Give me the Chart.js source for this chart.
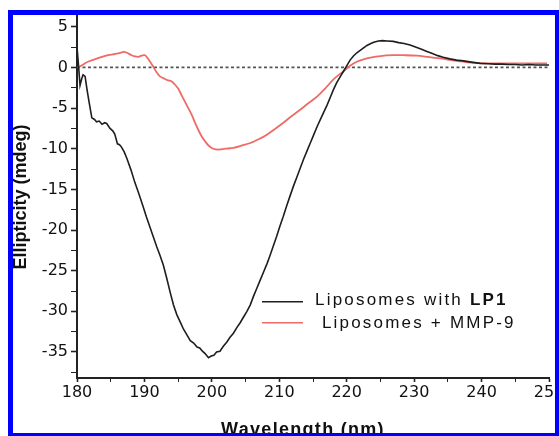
<!DOCTYPE html>
<html>
<head>
<meta charset="utf-8">
<script src="https://cdn.jsdelivr.net/npm/chart.js@4.4.1/dist/chart.umd.min.js"></script>
<style>
  html, body { margin: 0; padding: 0; background: #fff; }
  #wrap { position: relative; width: 559px; height: 436px; overflow: hidden; }
  #frame {
    position: absolute; left: 8px; top: 10px; width: 551px; height: 426px;
    box-sizing: border-box; pointer-events: none;
    border-style: solid; border-color: #0000ff;
    border-width: 5px 4px 3px 5px;
  }
</style>
</head>
<body>
<div id="wrap">
  <canvas id="cd" width="559" height="436"></canvas>
  <div id="frame"></div>
</div>
<script>
// Liposomes with LP1 (black trace)
const lp1Wavelength = [180.0, 180.2, 180.45, 180.7, 180.9, 181.2, 181.5, 181.8, 182.2, 182.6, 182.9, 183.3, 183.7, 184.1, 184.4, 184.9, 185.3, 185.6, 186.0, 186.3, 186.6, 187.0, 187.4, 188.0, 188.6, 189.2, 189.8, 190.3, 190.8, 191.3, 191.8, 192.3, 192.8, 193.3, 193.8, 194.3, 194.8, 195.3, 195.8, 196.3, 196.8, 197.3, 197.8, 198.2, 198.6, 199.0, 199.5, 199.9, 200.3, 200.7, 201.2, 201.7, 202.2, 202.7, 203.2, 203.7, 204.2, 204.7, 205.2, 205.7, 206.2, 206.7, 207.2, 207.7, 208.2, 208.6, 209.1, 209.6, 210.1, 210.6, 211.1, 211.6, 212.1, 212.6, 213.1, 213.6, 214.1, 214.6, 215.1, 215.6, 216.1, 216.6, 217.1, 217.6, 218.0, 218.5, 219.0, 219.5, 220.0, 220.5, 221.0, 221.5, 222.0, 222.5, 223.0, 223.5, 224.0, 224.7, 225.3, 226.0, 226.9, 227.7, 228.5, 229.4, 230.2, 231.0, 231.9, 232.7, 233.5, 234.3, 235.3, 236.3, 237.3, 238.5, 239.8, 241, 242, 243, 244, 245, 246, 247, 248, 249, 250];
const lp1Ellipticity = [2.5, 0.5, -2.2, -1.4, -0.9, -1.1, -2.8, -4.3, -6.2, -6.4, -6.7, -6.6, -7.0, -6.8, -6.9, -7.5, -7.8, -8.2, -9.4, -9.5, -9.8, -10.4, -11.2, -12.6, -14.2, -15.6, -17.1, -18.4, -19.6, -20.8, -22.0, -23.1, -24.3, -25.9, -27.6, -29.2, -30.4, -31.3, -32.2, -32.9, -33.6, -33.9, -34.4, -34.5, -34.9, -35.2, -35.7, -35.5, -35.4, -35.0, -34.9, -34.3, -33.8, -33.2, -32.7, -32.0, -31.4, -30.7, -30.0, -29.2, -28.1, -27.1, -26.1, -25.1, -24.1, -23.2, -22.0, -20.8, -19.5, -18.3, -17.0, -15.8, -14.6, -13.5, -12.4, -11.3, -10.3, -9.3, -8.3, -7.3, -6.4, -5.5, -4.6, -3.6, -2.8, -1.9, -1.2, -0.5, 0.2, 0.9, 1.4, 1.8, 2.1, 2.4, 2.7, 2.9, 3.1, 3.25, 3.3, 3.25, 3.2, 3.05, 2.95, 2.75, 2.5, 2.25, 1.95, 1.7, 1.45, 1.25, 1.05, 0.9, 0.8, 0.65, 0.5, 0.45, 0.4, 0.4, 0.35, 0.35, 0.3, 0.35, 0.3, 0.3, 0.3];

// Liposomes + MMP-9 (red trace)
const mmpWavelength = [180.2, 181.0, 181.6, 182.6, 183.7, 184.6, 185.6, 186.3, 186.9, 187.4, 188.1, 188.6, 189.1, 189.6, 190.1, 190.6, 191.3, 191.8, 192.3, 193.0, 193.5, 194.0, 194.5, 195.0, 195.5, 196.0, 196.5, 197.0, 197.5, 198.0, 198.5, 199.0, 199.5, 200.2, 201.0, 202.0, 203.2, 204.5, 205.7, 207.0, 208.1, 209.3, 210.6, 211.8, 213.1, 214.3, 215.6, 216.8, 218.0, 219.0, 219.5, 220.5, 221.5, 222.5, 223.5, 225.0, 226.9, 228.5, 230.4, 232.0, 233.9, 235.5, 237.3, 239.0, 240.8, 243, 246, 249.7];
const mmpEllipticity = [0, 0.4, 0.7, 1.0, 1.3, 1.5, 1.65, 1.75, 1.9, 1.8, 1.5, 1.35, 1.3, 1.45, 1.5, 1.0, 0.1, -0.6, -1.1, -1.4, -1.6, -1.7, -2.1, -2.6, -3.4, -4.2, -5.0, -5.8, -6.8, -7.7, -8.5, -9.1, -9.6, -10.0, -10.1, -10.0, -9.9, -9.6, -9.3, -8.8, -8.3, -7.6, -6.8, -6.0, -5.2, -4.4, -3.6, -2.6, -1.5, -0.8, -0.5, 0.2, 0.7, 1.0, 1.2, 1.4, 1.5, 1.5, 1.45, 1.3, 1.1, 0.9, 0.7, 0.55, 0.5, 0.5, 0.5, 0.5];

// zero reference (dashed)
const zeroWavelength = [180, 250];
const zeroEllipticity = [0, 0];

const seriesLabels = ['Liposomes with LP1', ' Liposomes + MMP-9'];
const xTickLabels = [180, 190, 200, 210, 220, 230, 240, 250];
const yTickLabels = [5, 0, -5, -10, -15, -20, -25, -30, -35];
const xTitle = 'Wavelength (nm)';
const yTitle = 'Ellipticity (mdeg)';

function toPoints(xs, ys) {
  return xs.map((x, i) => ({ x: x, y: ys[i] }));
}

// legend + axis titles drawn by hand (letter spacing, bold "LP1")
const decorPlugin = {
  id: 'decor',
  afterDraw(chart) {
    const ctx = chart.ctx;
    ctx.save();
    ctx.fillStyle = '#111';
    ctx.textBaseline = 'alphabetic';
    ctx.letterSpacing = '1.3px';
    ctx.font = 'bold 18px "Liberation Sans", Arial, sans-serif';
    ctx.textAlign = 'center';
    ctx.fillText(xTitle, 303, 435);
    ctx.translate(25.5, 197);
    ctx.rotate(-Math.PI / 2);
    ctx.letterSpacing = '0px';
    ctx.fillText(yTitle, 0, 0);
    ctx.restore();

    // legend
    const rows = [
      { ds: chart.data.datasets[0], lineY: 301.7, textY: 305 },
      { ds: chart.data.datasets[1], lineY: 322.7, textY: 328 }
    ];
    ctx.save();
    ctx.letterSpacing = '2.2px';
    ctx.textAlign = 'left';
    ctx.textBaseline = 'alphabetic';
    rows.forEach(r => {
      ctx.strokeStyle = r.ds.borderColor;
      ctx.lineWidth = 1.5;
      ctx.beginPath();
      ctx.moveTo(262, r.lineY);
      ctx.lineTo(303, r.lineY);
      ctx.stroke();
      ctx.fillStyle = '#111';
      const label = r.ds.label;
      if (label.endsWith('LP1')) {
        const head = label.slice(0, -3);
        ctx.font = '17px "Liberation Sans", Arial, sans-serif';
        ctx.fillText(head, 315, r.textY);
        const w = ctx.measureText(head).width;
        ctx.font = 'bold 17px "Liberation Sans", Arial, sans-serif';
        ctx.fillText('LP1', 315 + w, r.textY);
      } else {
        ctx.font = '17px "Liberation Sans", Arial, sans-serif';
        ctx.fillText(label, 315, r.textY);
      }
    });
    ctx.restore();
  }
};

new Chart(document.getElementById('cd'), {
  type: 'line',
  data: {
    datasets: [
      {
        label: seriesLabels[0],
        data: toPoints(lp1Wavelength, lp1Ellipticity),
        borderColor: '#1e1e1e',
        borderWidth: 1.6,
        pointRadius: 0,
        tension: 0,
        order: 1
      },
      {
        label: seriesLabels[1],
        data: toPoints(mmpWavelength, mmpEllipticity),
        borderColor: '#ee6b67',
        borderWidth: 1.8,
        pointRadius: 0,
        tension: 0.3,
        order: 2
      },
      {
        label: 'zero',
        data: toPoints(zeroWavelength, zeroEllipticity),
        borderColor: '#555',
        borderWidth: 1.6,
        borderDash: [3, 2.5],
        pointRadius: 0,
        order: 3
      }
    ]
  },
  options: {
    responsive: false,
    animation: false,
    layout: { padding: { left: 0, top: 10.5, right: 10, bottom: 0 } },
    plugins: {
      legend: { display: false },
      tooltip: { enabled: false }
    },
    scales: {
      x: {
        type: 'linear',
        min: 180,
        max: 250,
        afterBuildTicks: function(scale) {
          const t = [];
          for (let v = 180; v <= 250; v += 5) t.push({ value: v });
          scale.ticks = t;
        },
        afterFit: function(scale) {
          scale.height = 58;
          scale.paddingLeft = 0;
          scale.paddingRight = 0;
        },
        border: { color: '#222', width: 2 },
        grid: {
          drawOnChartArea: false,
          tickLength: 4,
          tickColor: '#222',
          tickWidth: ctx => (ctx.tick && ctx.tick.value % 10 === 0 ? 1.6 : 1)
        },
        ticks: {
          padding: 1,
          maxRotation: 0,
          autoSkip: false,
          color: '#111',
          font: { family: '"DejaVu Sans", sans-serif', size: 16 },
          callback: v => (xTickLabels.includes(v) ? String(v) : '')
        }
      },
      y: {
        min: -38.2,
        max: 7,
        afterBuildTicks: function(scale) {
          const t = [];
          for (let v = 5; v >= -37.5; v -= 2.5) t.push({ value: v });
          scale.ticks = t;
        },
        afterFit: function(scale) {
          scale.width = 77;
          scale.paddingTop = 0;
          scale.paddingBottom = 0;
        },
        border: { color: '#222', width: 2 },
        grid: {
          drawOnChartArea: false,
          tickLength: 6,
          tickColor: '#222',
          tickWidth: ctx => (ctx.tick && ctx.tick.value % 5 === 0 ? 1.6 : 1)
        },
        ticks: {
          padding: 3,
          autoSkip: false,
          color: '#111',
          font: { family: '"DejaVu Sans", sans-serif', size: 16 },
          callback: v => (yTickLabels.includes(v) ? String(v) : '')
        }
      }
    }
  },
  plugins: [decorPlugin]
});
</script>
</body>
</html>
